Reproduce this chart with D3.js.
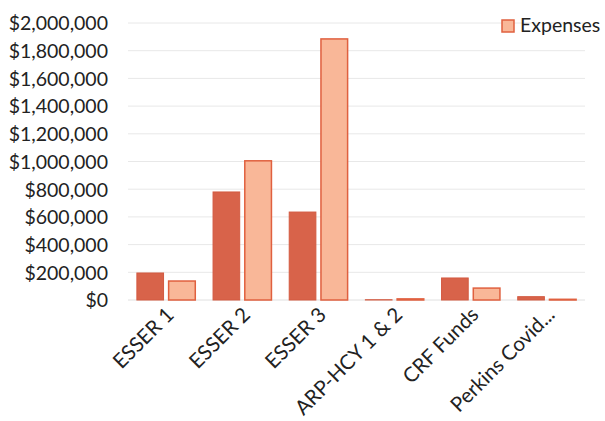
<!DOCTYPE html>
<html>
<head>
<meta charset="utf-8">
<script src="https://cdn.jsdelivr.net/npm/d3@7"></script>
<style>
  html, body { margin: 0; padding: 0; background: #fff; }
  svg { display: block; }
  svg text { font-family: Lato, "Open Sans", sans-serif; }
</style>
</head>
<body>
<svg id="chart" width="605" height="421"></svg>
<script>
// Funding sources and their two series
const categories = ["ESSER 1", "ESSER 2", "ESSER 3", "ARP-HCY 1 & 2", "CRF Funds", "Perkins Covid..."];
const allocations = [195000, 780000, 635000, 2000, 159000, 24000];
const expenses = [137000, 1005000, 1885000, 8000, 86000, 5000];
const yTicks = [0, 200000, 400000, 600000, 800000, 1000000, 1200000, 1400000, 1600000, 1800000, 2000000];

const svg = d3.select("#chart");
const margin = { left: 128, right: 20, top: 23, bottom: 121 };
const W = 605, H = 421;

const x = d3.scaleBand().domain(categories).range([margin.left, W - margin.right]).paddingInner(0).paddingOuter(0);
const y = d3.scaleLinear().domain([0, 2000000]).range([H - margin.bottom, margin.top]);

const fmt = v => "$" + d3.format(",")(v);

// gridlines
svg.append("g").selectAll("line").data(yTicks.filter(d => d > 0)).join("line")
  .attr("x1", margin.left).attr("x2", W - margin.right)
  .attr("y1", d => y(d)).attr("y2", d => y(d))
  .attr("stroke", "#e8e8e8").attr("stroke-width", 1);

// y axis labels
const yAxis = d3.axisLeft(y).tickValues(yTicks).tickFormat(fmt).tickSize(0).tickPadding(20);
const yg = svg.append("g").attr("transform", `translate(${margin.left},0)`).call(yAxis);
yg.attr("font-family", null);
yg.select(".domain").remove();
yg.selectAll("text").attr("font-size", 19.5).attr("fill", "#222").attr("dy", "0.35em");

// baseline
svg.append("line").attr("x1", margin.left).attr("x2", W - margin.right)
  .attr("y1", y(0)).attr("y2", y(0)).attr("stroke", "#e0e0e0");

const inner = d3.scaleBand().domain(["a", "e"]).range([0, x.bandwidth()]).paddingInner(0.16).paddingOuter(0.28);

const g = svg.append("g");
g.selectAll("rect.a").data(categories).join("rect").attr("class", "a")
  .attr("x", (d) => x(d) + inner("a"))
  .attr("width", inner.bandwidth())
  .attr("y", (d, i) => y(allocations[i]))
  .attr("height", (d, i) => y(0) - y(allocations[i]))
  .attr("fill", "#d8634a").attr("stroke", "#d35a41").attr("stroke-width", 1);

g.selectAll("rect.e").data(categories).join("rect").attr("class", "e")
  .attr("x", (d) => x(d) + inner("e"))
  .attr("width", inner.bandwidth())
  .attr("y", (d, i) => y(expenses[i]))
  .attr("height", (d, i) => y(0) - y(expenses[i]))
  .attr("fill", "#f9b798").attr("stroke", "#e0603f").attr("stroke-width", 1.5);

// category labels
const xAxis = d3.axisBottom(x).tickSize(0).tickPadding(0);
const xg = svg.append("g").attr("transform", `translate(0,${y(0)})`).call(xAxis);
xg.attr("font-family", null);
xg.select(".domain").remove();
xg.selectAll("text")
  .attr("font-size", 20.5).attr("fill", "#222")
  .attr("text-anchor", "end")
  .attr("transform", "translate(4,11) rotate(-45)")
  .attr("dy", "0.35em");

// legend
const lg = svg.append("g").attr("transform", "translate(502,20)");
lg.append("rect").attr("width", 12).attr("height", 12)
  .attr("fill", "#f9b798").attr("stroke", "#e0603f").attr("stroke-width", 1.5);
lg.append("text").attr("x", 18).attr("y", 12).attr("font-size", 19.5).attr("fill", "#222").text("Expenses");
</script>
</body>
</html>
